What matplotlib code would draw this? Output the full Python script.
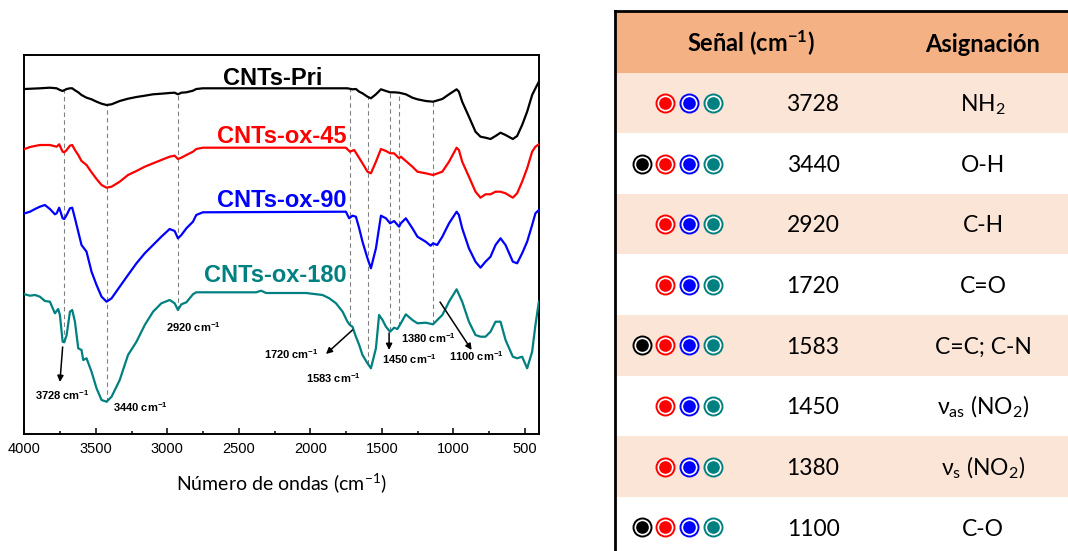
import numpy as np
import matplotlib
matplotlib.use("Agg")
import matplotlib.pyplot as plt
from matplotlib.patches import Rectangle
from matplotlib.ticker import MultipleLocator

plt.rcParams['mathtext.default'] = 'regular'

# ---- FTIR spectra (arbitrary offset units) ----
pri_wn = [3997, 3891, 3821, 3774, 3751, 3732, 3704, 3681, 3665, 3646, 3623, 3600, 3565, 3530,
          3495, 3460, 3425, 3390, 3333, 3275, 3216, 3158, 3100, 3042, 2984, 2949, 2926, 2902,
          2867, 2821, 2798, 2752, 1741, 1706, 1682, 1659, 1636, 1601, 1577, 1542, 1507, 1472,
          1443, 1415, 1380, 1333, 1287, 1252, 1194, 1143, 1078, 1031, 978, 962, 939, 892, 846,
          811, 776, 741, 706, 671, 636, 585, 555, 520, 485, 450, 427, 403]
pri_t = [345, 345.7, 346.3, 345.7, 344, 343, 345, 345.7, 345.7, 343.7, 341.7, 339, 336.3, 334.7,
         332.3, 330.3, 329, 329.7, 333, 335.3, 337, 338.3, 339.7, 340.3, 341, 341.3, 339.7, 341.3,
         341.7, 343.3, 345, 345.7, 345.7, 344.7, 345, 342.3, 340.7, 337.3, 335.7, 339.7, 344.7, 343,
         341.7, 341.7, 341.3, 339.7, 336.3, 334.7, 333, 332.3, 335, 339.7, 344.7, 342.3, 332.3, 317.3,
         302.3, 297.3, 296.3, 295, 298, 301.3, 299, 295, 298, 309, 322.3, 339, 345.7, 352.3]

ox45_wn = [3997, 3960, 3891, 3821, 3774, 3756, 3732, 3721, 3704, 3681, 3665, 3646, 3623, 3600,
           3565, 3530, 3495, 3460, 3425, 3390, 3333, 3275, 3216, 3158, 3100, 3042, 2984, 2949,
           2926, 2902, 2867, 2821, 2798, 2752, 1752, 1724, 1694, 1659, 1636, 1601, 1577, 1542,
           1507, 1472, 1443, 1415, 1380, 1368, 1333, 1287, 1252, 1194, 1143, 1078, 1031, 978,
           962, 939, 892, 846, 811, 776, 741, 706, 671, 636, 585, 555, 520, 485, 450, 427, 403]
ox45_t = [285, 287, 289, 289, 287.3, 289.7, 282.3, 281.7, 284, 288.3, 289, 284, 279, 273,
          269, 261.7, 255, 249, 246.3, 247.3, 252.3, 259, 263, 267.3, 270.7, 274, 277.3, 278.3,
          275, 276.3, 279, 282.3, 285, 286.3, 286.3, 282.3, 284, 276, 270.7, 262.3, 260.7, 272.3,
          285, 283, 280.7, 280.7, 275.7, 277.3, 273, 267.3, 262.3, 260.7, 259, 262.3, 272.3, 286.3,
          284, 272.3, 257.3, 242.3, 236.3, 239.7, 239.7, 242.3, 242.3, 240.7, 236.3, 240.7, 252.3,
          265.7, 282.3, 287.3, 289.7]

ox90_wn = [3997, 3960, 3925, 3891, 3856, 3821, 3786, 3774, 3756, 3732, 3721, 3704, 3681, 3665,
           3646, 3623, 3600, 3565, 3530, 3495, 3460, 3425, 3390, 3333, 3275, 3216, 3158, 3100,
           3042, 2984, 2949, 2926, 2902, 2867, 2821, 2798, 2752, 1752, 1729, 1706, 1682, 1659,
           1636, 1601, 1577, 1542, 1507, 1472, 1443, 1415, 1380, 1368, 1333, 1287, 1252, 1194,
           1160, 1143, 1114, 1078, 1031, 978, 962, 939, 892, 846, 811, 776, 741, 706, 671, 636,
           585, 555, 520, 485, 450, 427, 403]
ox90_t = [220.7, 222.3, 225, 227.3, 229, 225, 219.7, 220.7, 226.3, 215.7, 215, 219, 225.7, 226.3,
          215.7, 202.3, 189, 182.3, 162.3, 149, 137.3, 132.3, 135.7, 147.3, 159, 170.7, 180.7, 189,
          197.3, 205, 203, 195.7, 199, 205.7, 212.3, 219, 221.7, 222.3, 215.7, 218.3, 217.3, 205.7,
          192.3, 175.7, 165.7, 185.7, 218.3, 215.7, 210.7, 213, 207.3, 210.7, 215.7, 205.7, 197.3,
          192.3, 188.3, 190.7, 189, 197.3, 210.7, 222.3, 219, 205.7, 185.7, 172.3, 166.3, 172.3,
          177.3, 189, 195.7, 189, 172.3, 170.7, 180.7, 192.3, 209, 220.7, 224]

ox180_wn = [3997, 3960, 3925, 3891, 3856, 3821, 3786, 3763, 3751, 3732, 3721, 3704, 3681, 3665,
            3646, 3623, 3600, 3588, 3565, 3530, 3495, 3460, 3425, 3390, 3333, 3275, 3216, 3158,
            3100, 3042, 2984, 2949, 2926, 2902, 2867, 2821, 2798, 2752, 2612, 2379, 2345, 2310,
            2147, 2031, 1915, 1868, 1821, 1775, 1741, 1724, 1706, 1682, 1659, 1636, 1601, 1577,
            1542, 1520, 1496, 1472, 1443, 1415, 1392, 1368, 1333, 1287, 1252, 1194, 1143, 1078,
            1031, 978, 939, 892, 846, 811, 776, 741, 706, 671, 636, 585, 555, 520, 485, 450, 427, 403]
ox180_t = [139.7, 138.3, 139, 137.3, 133, 132.3, 120.7, 125, 119, 92.3, 91.7, 99, 122.3, 124,
           112.3, 85.7, 84, 74, 75.7, 62.3, 45.7, 34, 32.3, 37.3, 54, 79, 92.3, 109,
           122.3, 130.7, 134, 130.7, 124, 129.7, 131.7, 139.7, 141.7, 141.7, 141.7, 141.7, 143.3, 141,
           141, 141, 139, 135.7, 130.7, 122.3, 112.3, 109, 107.3, 97.3, 89, 79, 70.7, 65.7,
           85.7, 119, 114, 107.3, 102.3, 106.3, 105, 110.7, 119.7, 114, 110.7, 111.3, 109.7, 119,
           132.3, 144.7, 132.3, 112.3, 99, 97.3, 97.3, 102.3, 112.3, 112.3, 94, 77.3, 75.7, 77.3,
           65.7, 82.3, 109, 132.3]

samples = ['CNTs-Pri', 'CNTs-ox-45', 'CNTs-ox-90', 'CNTs-ox-180']
colors = ['#000000', '#ff0000', '#0000ff', '#008080']
spectra = [(pri_wn, pri_t), (ox45_wn, ox45_t), (ox90_wn, ox90_t), (ox180_wn, ox180_t)]

# dashed guide lines (positions as drawn)
guide_wn = [3720, 3425, 2925, 1725, 1597, 1445, 1380, 1140]

# peak annotations: text, text x (left), text baseline y, arrow (tail, head) or None
peak_labels = ['3728', '3440', '2920', '1720', '1583', '1450', '1380', '1100']
peak_text_x = [3925, 3379, 3007, 2322, 2031, 1497, 1368, 1031]
peak_text_y = [34, 22.3, 102.3, 74.7, 51.3, 69.7, 90.7, 73]
peak_arrows = [((3732, 87), (3751, 52)), None, None, ((1706, 104), (1891, 80)),
               None, ((1450, 101), (1450, 84)), None, ((1094, 132), (873, 84))]

# ---- table ----
signals = ['3728', '3440', '2920', '1720', '1583', '1450', '1380', '1100']
assignments = ['NH$_2$', 'O-H', 'C-H', 'C=O', 'C=C; C-N',
               'ν$_{as}$ (NO$_2$)', 'ν$_{s}$ (NO$_2$)', 'C-O']
pri_present = [0, 1, 0, 0, 1, 0, 0, 1]
ox45_present = [1, 1, 1, 1, 1, 1, 1, 1]
ox90_present = [1, 1, 1, 1, 1, 1, 1, 1]
ox180_present = [1, 1, 1, 1, 1, 1, 1, 1]
presence = [pri_present, ox45_present, ox90_present, ox180_present]

W, H = 1068, 551
fig = plt.figure(figsize=(W / 100, H / 100), dpi=100)

# ---------- spectra panel ----------
ax = fig.add_axes([24.3 / W, 1 - 434 / H, (539.3 - 24.3) / W, (434 - 55) / H])
for (wn, t), c in zip(spectra, colors):
    ax.plot(wn, t, color=c, lw=1.6, zorder=3)

for p in guide_wn:
    top = np.interp(p, pri_wn[::-1], pri_t[::-1])
    bot = np.interp(p, ox180_wn[::-1], ox180_t[::-1])
    ax.plot([p, p], [bot, top], ls=(0, (4, 3)), color='#808080', lw=0.8, zorder=1)

lab_font = dict(family='Liberation Sans', weight='bold', fontsize=17)
ax.text(2264, 349, samples[0], color=colors[0], ha='center', va='baseline', **lab_font)
ax.text(1745, 290.7, samples[1], color=colors[1], ha='right', va='baseline', **lab_font)
ax.text(1745, 227, samples[2], color=colors[2], ha='right', va='baseline', **lab_font)
ax.text(1745, 152.3, samples[3], color=colors[3], ha='right', va='baseline', **lab_font)

for lab, tx, ty, arr in zip(peak_labels, peak_text_x, peak_text_y, peak_arrows):
    ax.text(tx, ty, lab + ' cm$^{-1}$', ha='left', va='baseline',
            family='Liberation Sans', weight='bold', fontsize=8)
    if arr is not None:
        ax.annotate('', xy=arr[1], xytext=arr[0],
                    arrowprops=dict(arrowstyle='-|>', color='k', lw=1.1, mutation_scale=9,
                                    shrinkA=0, shrinkB=0))

ax.set_xlim(4000, 400)
ax.set_ylim(0, 379)
ax.set_yticks([])
ax.xaxis.set_major_locator(MultipleLocator(500))
ax.xaxis.set_minor_locator(MultipleLocator(250))
ax.tick_params(axis='x', which='both', direction='in', width=1.1, pad=6, labelsize=10.5)
ax.tick_params(axis='x', which='major', length=4.5)
ax.tick_params(axis='x', which='minor', length=2.2)
for lbl in ax.get_xticklabels():
    lbl.set_family('Liberation Sans')
for sp in ax.spines.values():
    sp.set_linewidth(1.4)
ax.set_xlabel('Número de ondas (cm$^{-1}$)', family='Lato', fontsize=14)
ax.xaxis.set_label_coords(0.5, (434 - 483) / 379)
ax.xaxis.label.set_va('center')

# ---------- table panel ----------
tax = fig.add_axes([612 / W, 0, (W - 612) / W, 543 / H])
tax.set_xlim(612, W)
tax.set_ylim(551, 8)
tax.axis('off')

header_top, header_bot, row_h = 11, 72.7, 60.6
tax.add_patch(Rectangle((615, header_top), W - 615, header_bot - header_top,
                        facecolor='#f4b183', edgecolor='none'))
for i in range(len(signals)):
    y0 = header_bot + i * row_h
    if i % 2 == 0:
        tax.add_patch(Rectangle((615, y0), W - 615, row_h, facecolor='#fbe5d6', edgecolor='none'))
tax.plot([615, 615], [header_top, 551], color='k', lw=2, solid_capstyle='projecting', clip_on=False)
tax.plot([615, W], [header_top, header_top], color='k', lw=2, solid_capstyle='projecting', clip_on=False)

tax.text(750.5, 52.5, 'Señal (cm$^{-1}$)', ha='center', va='baseline',
         family='Lato', weight='bold', fontsize=17)
tax.text(982.5, 52.5, 'Asignación', ha='center', va='baseline',
         family='Lato', weight='bold', fontsize=17)

row_centres = [header_bot + (i + 0.5) * row_h for i in range(len(signals))]
for yc, sig, asg in zip(row_centres, signals, assignments):
    tax.text(813, yc + 8.3, sig, ha='center', va='baseline', family='Lato', fontsize=16.5)
    tax.text(983, yc + 8.3, asg, ha='center', va='baseline', family='Lato', fontsize=16.5)

dot_x = [641.7, 665, 689.3, 713.3]
for x, c, pres in zip(dot_x, colors, presence):
    ys = [yc for yc, p in zip(row_centres, pres) if p]
    tax.scatter([x] * len(ys), ys, s=168, facecolor='white', edgecolor=c, linewidths=1.4, zorder=3)
    tax.scatter([x] * len(ys), ys, s=83, color=c, linewidths=0, zorder=4)

fig.savefig('out.png', dpi=100)
